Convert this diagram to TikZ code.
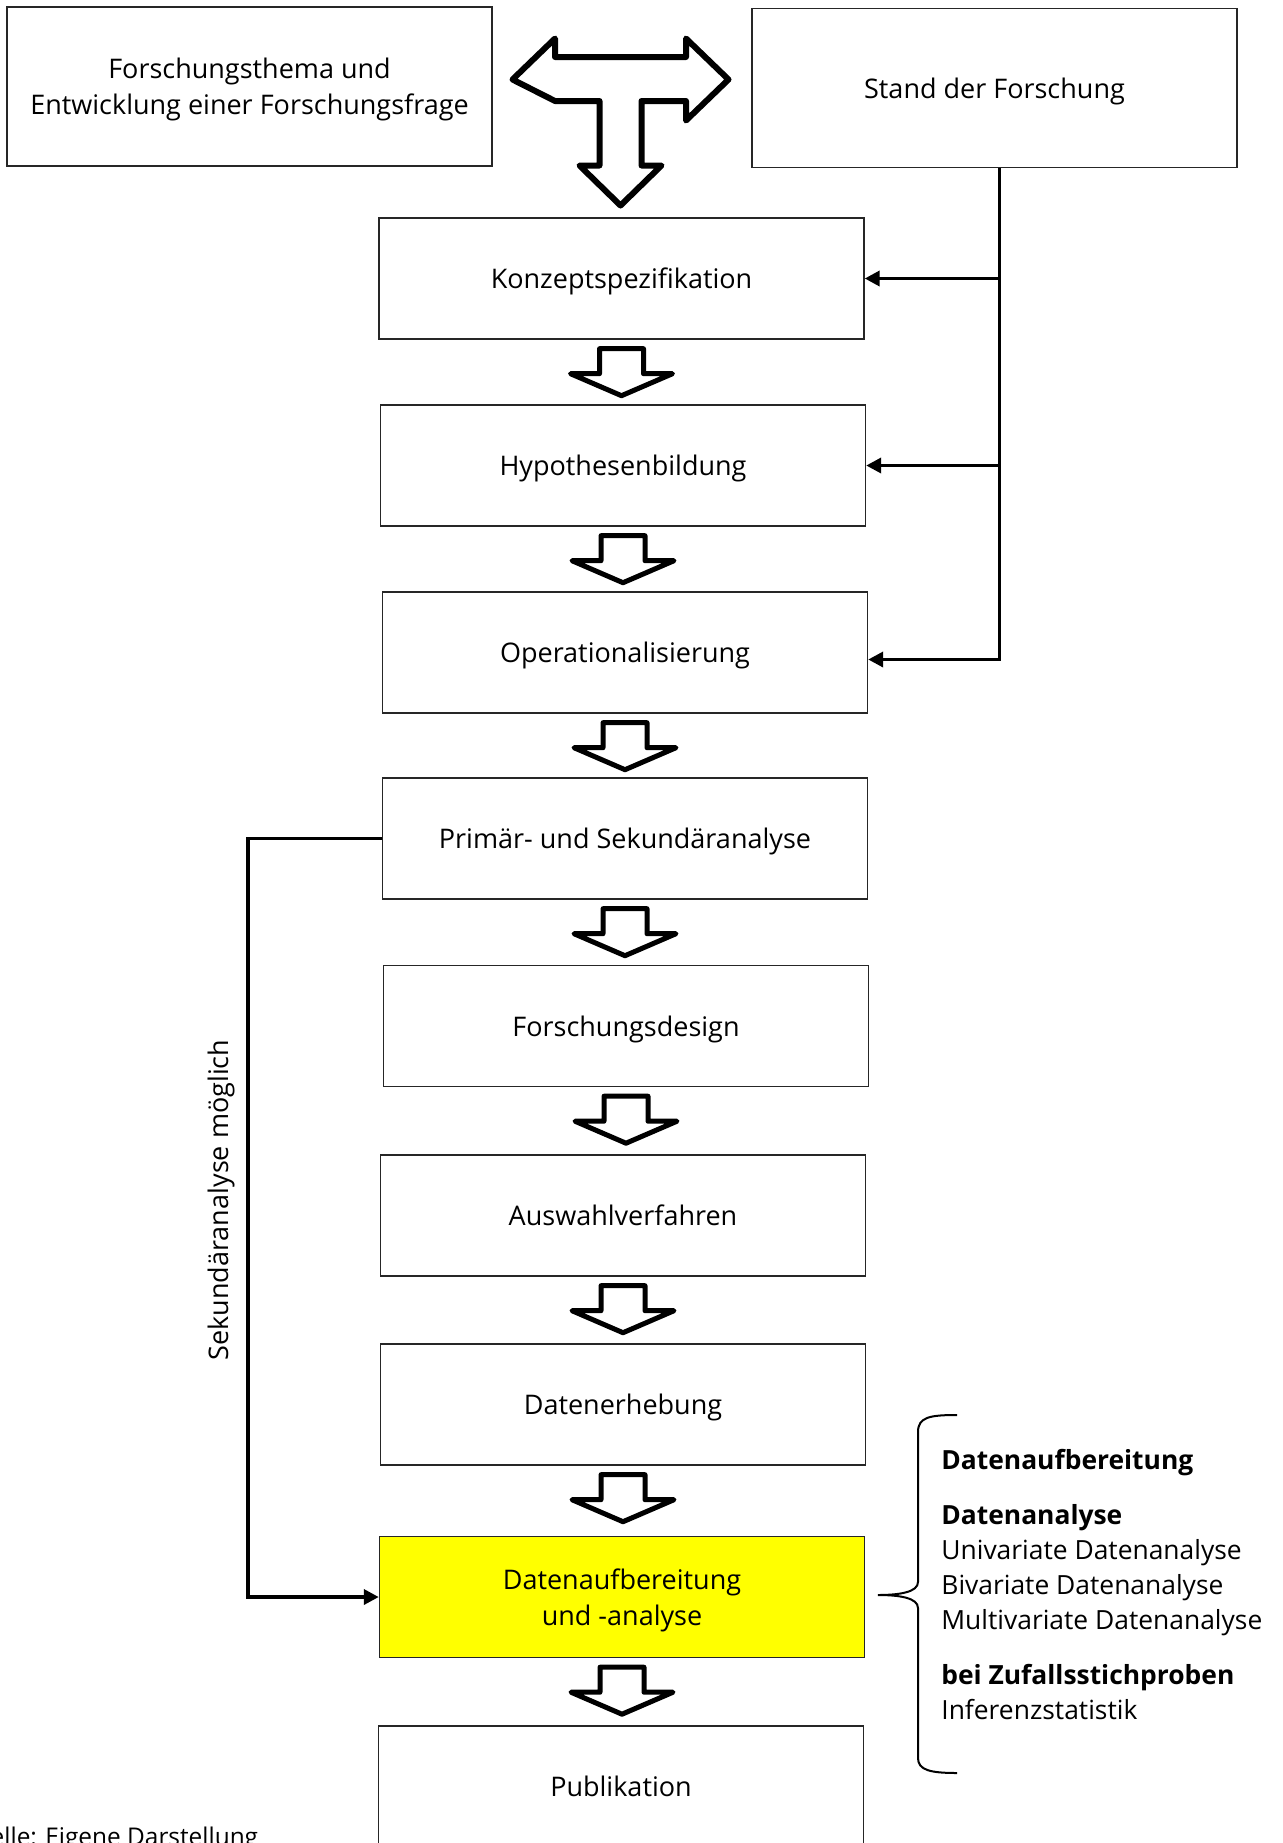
\documentclass[tikz,border=0pt]{standalone}
\usepackage{fontspec}
\setmainfont{Open Sans}
\usetikzlibrary{arrows.meta,calc}
\definecolor{markyellow}{RGB}{255,255,0}

\begin{document}
\begin{tikzpicture}[x=0.5pt, y=-0.5pt, >={Triangle[length=7.5pt,width=7.5pt]}]
    \tikzset{%
     every stage/.style={
        rectangle,
        draw=black!85,
        line width=0.7pt,
        minimum width=242.5pt,
        minimum height=60.5pt,
        text depth=0pt,
        font=\fontsize{13.5}{17.75}\selectfont,
        align=center},
     stage top/.style={
        minimum height=79.5pt,
        font=\fontsize{13.5}{18}\selectfont},
     stage data/.style={
        fill=markyellow},
     block arrow/.style={
        draw=black,
        line width=2.5pt,
        line join=round,
        fill=white},
     feed/.style={
        draw=black,
        line width=1.8pt},
     flow arrow/.pic={
        \draw [block arrow] (-22,0) -- (22,0) -- (22,25) -- (51,25)
            -- (0,47) -- (-51,25) -- (-22,25) -- cycle;},
    }

    \useasboundingbox (0,0) rectangle (1282,1843);

    \node [every stage/.try, stage top/.try] (thema) at (249.5,86.5)
        {Forschungsthema und\\Entwicklung einer Forschungsfrage};
    \node [every stage/.try, stage top/.try] (stand) at (994.5,88)
        {Stand der Forschung};

    % T-shaped block arrow between the two top boxes
    \draw [block arrow, line width=3pt, shift={(620.5,0)}]
        (-108,79.5) -- (-65.5,38.5) -- (-65.5,57) -- (65.5,57) -- (65.5,38.5)
        -- (108,79.5) -- (65.5,120.5) -- (65.5,101) -- (21,101) -- (21,165.5)
        -- (41,165.5) -- (0,205.5) -- (-41,165.5) -- (-21,165.5)
        -- (-21,101) -- (-65.5,101) -- cycle;

    \foreach \n/\t/\x/\y in {konzept/Konzeptspezifikation/621.5/278.5,
                             hypo/Hypothesenbildung/623/465.5,
                             oper/Operationalisierung/625/652.5,
                             analyse/Primär- und Sekundäranalyse/625/838.5,
                             design/Forschungsdesign/626/1026,
                             auswahl/Auswahlverfahren/623/1215.5,
                             erhebung/Datenerhebung/623/1404.5,
                             publikation/Publikation/621/1786.5}
        \node [every stage/.try] (\n) at (\x,\y) {\t};

    \node [every stage/.try, stage data/.try] (aufbereitung) at (622,1597)
        {Datenaufbereitung\\und -analyse};

    \foreach \a in {konzept,hypo,oper,analyse,design,auswahl,erhebung,aufbereitung}
        \pic at ($(\a.south)+(0,9)$) {flow arrow};

    % Stand der Forschung feeds the first three steps
    \coordinate (rail) at ([xshift=2.5pt]stand.south);
    \draw [feed, ->] (rail) |- ([yshift=-3.5pt]oper.east);
    \foreach \n in {konzept,hypo}
        \draw [feed, ->] (rail |- \n.east) -- (\n.east);

    % secondary analysis shortcut
    \draw [feed, ->] (analyse.west) -- ++(-134,0) |- (aufbereitung.west);
    \node [rotate=90, font=\fontsize{13.5}{16}\selectfont] (sekundaer) at (221,1200)
        {Sekundäranalyse möglich};

    % brace and details
    \draw [line width=1pt]
        (957,1415) .. controls (930,1415) and (918,1417) .. (918,1432)
        -- (918,1582) .. controls (918,1592) and (900,1595) .. (878,1595)
        .. controls (900,1595) and (918,1598) .. (918,1608)
        -- (918,1758) .. controls (918,1770) and (930,1773) .. (957,1773);
    \node [anchor=north west, align=left, inner sep=0pt,
           font=\fontsize{13.2}{17.5}\selectfont] (methoden) at (941,1449)
        {\textbf{Datenaufbereitung}\\[10pt]
         \textbf{Datenanalyse}\\
         Univariate Datenanalyse\\
         Bivariate Datenanalyse\\
         Multivariate Datenanalyse\\[10pt]
         \textbf{bei Zufallsstichproben}\\
         Inferenzstatistik};

    \node [anchor=base east, inner sep=0pt, font=\fontsize{12.2}{14}\selectfont] (quelle) at (258.5,1845)
        {Quelle: Eigene Darstellung};
\end{tikzpicture}
\end{document}
